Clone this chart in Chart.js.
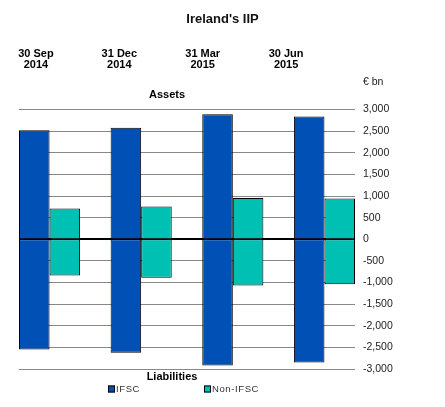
<!DOCTYPE html>
<html>
<head>
<meta charset="utf-8">
<script src="https://cdn.jsdelivr.net/npm/chart.js@4.4.0/dist/chart.umd.min.js"></script>
<style>
  html, body { margin: 0; padding: 0; background: #fff; }
  #wrap { width: 445px; height: 407px; }
</style>
</head>
<body>
<div id="wrap"><canvas id="chart"></canvas></div>
<script>
const dates = [["30 Sep", "2014"], ["31 Dec", "2014"], ["31 Mar", "2015"], ["30 Jun", "2015"]];
const ifscAssets = [2520, 2580, 2890, 2840];
const ifscLiab = [-2550, -2625, -2920, -2850];
const nonAssets = [710, 757, 957, 942];
const nonLiab = [-835, -888, -1066, -1042];
const seriesNames = ["IFSC", "Non-IFSC"];
const yMin = -3000, yMax = 3000, yStep = 500;

const colours = ["#0050b5", "#00bfb3"];
const FONT = "'Liberation Sans', Arial, sans-serif";
Chart.defaults.font.family = FONT;

const pts = (arr) => arr.map((v, i) => ({ x: i, y: v }));

function bar(label, data, colour, stack) {
    return {
        label: label,
        data: pts(data),
        stack: stack,
        backgroundColor: colour,
        borderColor: "#000",
        borderWidth: 1,
        borderSkipped: false,
        categoryPercentage: 2 / 3,
        barPercentage: 1,
    };
}

// free text + legend drawn on top of the chart
const extras = {
    id: "extras",
    afterDraw(chart) {
        const { ctx, chartArea: a } = chart;
        ctx.save();
        ctx.fillStyle = "#000";
        ctx.textBaseline = "middle";
        ctx.textAlign = "center";
        ctx.font = "bold 11px " + FONT;
        ctx.fillText("Assets", a.left + 148, a.top - 15);
        ctx.fillText("Liabilities", a.left + 153, a.bottom + 8);
        ctx.textAlign = "left";
        ctx.fillStyle = "#222";
        ctx.font = "10.5px " + FONT;
        ctx.fillText("€ bn", a.right + 8, a.top - 27);

        // legend
        const offs = [89, 185];
        ctx.font = "9.5px " + FONT;
        ctx.letterSpacing = "0.6px";
        seriesNames.forEach((name, i) => {
            const bx = a.left + offs[i];
            const by = a.bottom + 20;
            ctx.fillStyle = colours[i];
            ctx.fillRect(bx, by - 3.5, 7, 7);
            ctx.strokeStyle = "#000";
            ctx.lineWidth = 1;
            ctx.strokeRect(bx + 0.5, by - 3, 6, 6);
            ctx.fillStyle = "#333";
            ctx.fillText(name, bx + 8, by);
        });
        ctx.restore();
    },
};

var ctx = document.querySelector("#chart").getContext("2d");
var chart = new Chart(ctx, {
    type: "bar",
    data: {
        datasets: [
            bar("IFSC", ifscAssets, colours[0], "ifsc"),
            bar("IFSC", ifscLiab, colours[0], "ifsc"),
            bar("Non-IFSC", nonAssets, colours[1], "non"),
            bar("Non-IFSC", nonLiab, colours[1], "non"),
        ],
    },
    plugins: [extras],
    options: {
        responsive: true,
        maintainAspectRatio: false,
        animation: false,
        layout: { padding: { left: 0, right: 0, bottom: 38, top: 0 } },
        plugins: {
            legend: { display: false },
            tooltip: { enabled: false },
            title: {
                display: true,
                text: "Ireland's IIP",
                color: "#111",
                font: { size: 13, weight: "bold" },
                padding: { top: 12, bottom: 21 },
            },
        },
        scales: {
            x: {
                type: "linear",
                min: -1 / 3,
                max: 10 / 3,
                offset: false,
                stacked: true,
                display: false,
                ticks: { stepSize: 1, includeBounds: false },
            },
            xTop: {
                type: "linear",
                position: "top",
                min: -0.203,
                max: 3.826,
                offset: false,
                grid: { display: false, drawTicks: false, offset: false },
                border: { display: false },
                afterFit: (s) => {
                    s.height = 61;
                    s.paddingLeft = 0;
                    s.paddingRight = 0;
                },
                ticks: {
                    stepSize: 1,
                    includeBounds: false,
                    autoSkip: false,
                    maxRotation: 0,
                    padding: 39,
                    color: "#000",
                    font: { size: 11, weight: "bold", lineHeight: 1 },
                    callback: (v) => dates[v] || "",
                },
            },
            // empty left margin, keeps the title centred on the page
            yLeft: {
                type: "linear",
                position: "left",
                grid: { display: false, drawTicks: false },
                border: { display: false },
                ticks: { display: false },
                afterFit: (s) => { s.width = 19; },
            },
            y: {
                position: "right",
                min: yMin,
                max: yMax,
                stacked: true,
                border: { display: false },
                afterFit: (s) => { s.width = 90; },
                grid: {
                    drawTicks: false,
                    color: (c) => (c.tick && c.tick.value === 0 ? "#000" : "#888"),
                    lineWidth: (c) => (c.tick && c.tick.value === 0 ? 2 : 1),
                },
                ticks: {
                    stepSize: yStep,
                    padding: 8,
                    color: "#222",
                    font: { size: 10.5 },
                    callback: (v) => v.toLocaleString("en-US"),
                },
            },
        },
    },
});
</script>
</body>
</html>
